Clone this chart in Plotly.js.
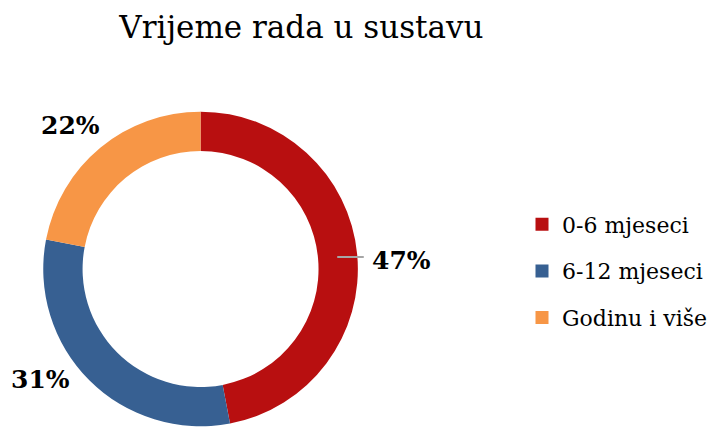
<!DOCTYPE html>
<html>
<head>
<meta charset="utf-8">
<script src="https://cdn.plot.ly/plotly-3.0.1.min.js"></script>
<style>html,body{margin:0;padding:0;background:#fff;overflow:hidden;}#chart{width:713px;height:428px;}</style>
</head>
<body>
<div id="chart"></div>
<script>
const categories = ["0-6 mjeseci", "6-12 mjeseci", "Godinu i više"];
const values = [47, 31, 22];
const colors = ["#B80F10", "#376092", "#F79646"];
const titleText = "Vrijeme rada u sustavu";

const serif = "DejaVu Serif, Liberation Serif, serif";
const W = 713, H = 428;

const pie = {
  type: "pie",
  labels: categories,
  values: values,
  sort: false,
  direction: "clockwise",
  rotation: 0,
  hole: 0.75,
  marker: {colors: colors, line: {width: 0}},
  textinfo: "none",
  domain: {x: [0.0617, 0.5105], y: [0, 0.743]},
  showlegend: false,
  automargin: false,
  hoverinfo: "label+percent"
};

const legendTraces = categories.map((c, i) => ({
  type: "scatter",
  mode: "markers",
  x: [null], y: [null],
  name: c,
  legendgroup: "g" + i,
  marker: {symbol: "square", size: 13, color: colors[i]},
  showlegend: true,
  hoverinfo: "skip"
}));

// pixel centres of each slice's percentage label
const labelPos = [[408, 260], [41, 379], [72, 125]];
const total = values.reduce((a, b) => a + b, 0);
const annotations = values.map((v, i) => ({
  text: Math.round(v / total * 100) + "%",
  xref: "paper", yref: "paper",
  x: labelPos[i][0] / W, y: 1 - labelPos[i][1] / H,
  xanchor: "center", yanchor: "middle",
  showarrow: false,
  font: {family: serif, size: 25, color: "#000", weight: "bold"}
}));

const layout = {
  width: W, height: H,
  margin: {l: 0, r: 0, t: 0, b: 0},
  paper_bgcolor: "#fff",
  plot_bgcolor: "#fff",
  title: {text: titleText, font: {family: serif, size: 31, color: "#000"},
          x: 0.43, xref: "paper", xanchor: "center", y: 0.936, yref: "container", yanchor: "middle"},
  xaxis: {visible: false, domain: [0.9, 1]},
  yaxis: {visible: false, domain: [0.9, 1]},
  showlegend: true,
  legend: {x: 0.745, y: 1 - 271 / H, xanchor: "left", yanchor: "middle",
           font: {family: serif, size: 22, color: "#000"},
           tracegroupgap: 15, bgcolor: "rgba(0,0,0,0)", borderwidth: 0},
  annotations: annotations,
  shapes: [{type: "line", xref: "paper", yref: "paper",
            x0: 343 / W, x1: 370 / W, y0: 1 - 257 / H, y1: 1 - 257 / H,
            line: {color: "#A6A6A6", width: 2}}]
};

Plotly.newPlot("chart", [pie].concat(legendTraces), layout, {displayModeBar: false, staticPlot: true});
</script>
</body>
</html>
